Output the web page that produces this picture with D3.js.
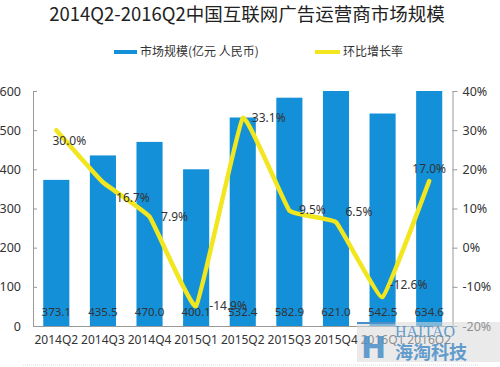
<!DOCTYPE html>
<html><head><meta charset="utf-8">
<script src="https://cdn.jsdelivr.net/npm/d3@7/dist/d3.min.js"></script>
<style>body{margin:0;background:#fff}svg{display:block}text{font-family:"Noto Sans CJK SC","Noto Sans",sans-serif}</style>
</head><body><svg id="c" width="500" height="367"></svg>
<script>
const categories = ["2014Q2","2014Q3","2014Q4","2015Q1","2015Q2","2015Q3","2015Q4","2016Q1","2016Q2"];
const marketSize = [373.1,435.5,470.0,400.1,532.4,582.9,621.0,542.5,634.6];
const growthRate = [30.0,16.7,7.9,-14.9,33.1,9.5,6.5,-12.6,17.0];
const leftTicks = [0,100,200,300,400,500,600];
const rightTicks = [-20,-10,0,10,20,30,40];
const title = "2014Q2-2016Q2中国互联网广告运营商市场规模";
const legendLabels = ["市场规模(亿元 人民币)","环比增长率"];

const svg = d3.select("#c");
const L = 33, R = 452.5, T = 91, B = 326;
const blue = "#1390d8", yellow = "#f2e61e", txt = "#333";

const x = d3.scaleBand().domain(categories).range([L, R]).paddingInner(0.44).paddingOuter(0.22);
const y = d3.scaleLinear().domain([0, 600]).range([B, T]).clamp(true);
const y2 = d3.scaleLinear().domain([-20, 40]).range([B, T]);

// title
svg.append("text").attr("x", 247).attr("y", 21).attr("text-anchor", "middle")
  .attr("font-size", 18.5).attr("fill", "#222").text(title);

// legend
const lg = svg.append("g");
lg.append("rect").attr("x", 114).attr("y", 50).attr("width", 23).attr("height", 4).attr("fill", blue);
lg.append("text").attr("x", 140).attr("y", 56).attr("font-size", 12).attr("fill", txt).text(legendLabels[0]);
lg.append("rect").attr("x", 315).attr("y", 50).attr("width", 25).attr("height", 4).attr("fill", yellow);
lg.append("text").attr("x", 343).attr("y", 56).attr("font-size", 12).attr("fill", txt).text(legendLabels[1]);

// bars
svg.append("g").selectAll("rect").data(marketSize).join("rect")
  .attr("x", (d, i) => x(categories[i])).attr("width", x.bandwidth())
  .attr("y", d => y(d)).attr("height", d => B - y(d)).attr("fill", blue);

// axes
const axL = svg.append("g").attr("transform", `translate(${L},0)`)
  .call(d3.axisLeft(y).tickValues(leftTicks).tickSizeInner(-4).tickSizeOuter(0).tickPadding(12));
const axR = svg.append("g").attr("transform", `translate(${R},0)`)
  .call(d3.axisRight(y2).tickValues(rightTicks).tickFormat(d => d + "%").tickSizeInner(5).tickSizeOuter(0).tickPadding(5));
[axL, axR].forEach(a => {
  a.selectAll("path,line").attr("stroke", "#999");
  a.selectAll("text").attr("font-size", 12.5).attr("fill", txt).style("font-family", "'Noto Sans',sans-serif");
});
const axB = svg.append("g").attr("transform", `translate(0,${B})`)
  .call(d3.axisBottom(x).tickSize(0).tickPadding(9));
axB.select("path").attr("stroke", "#999");
axB.selectAll("text").attr("font-size", 12).attr("fill", txt).style("font-family", "'Noto Sans',sans-serif");

// bar value labels
svg.append("g").selectAll("text").data(marketSize).join("text")
  .attr("x", (d, i) => x(categories[i]) + x.bandwidth() / 2).attr("y", 316)
  .attr("text-anchor", "middle").attr("font-size", 11.5).attr("fill", txt)
  .style("font-family", "'Noto Sans',sans-serif").text(d => d.toFixed(1));

// line
const cx = i => x(categories[i]) + x.bandwidth() / 2;
const line = d3.line().x((d, i) => cx(i)).y(d => y2(d)).curve(d3.curveCardinal.tension(0.72));
svg.append("path").datum(growthRate).attr("d", line).attr("fill", "none")
  .attr("stroke", yellow).attr("stroke-width", 4.5).attr("stroke-linejoin", "round").attr("stroke-linecap", "round");

// rate labels (offsets relative to the point)
const off = [[13,11],[30,16],[25,0],[32,0],[26,0],[23,0],[23,-10],[26,-12],[0,-12]];
svg.append("g").selectAll("text").data(growthRate).join("text")
  .attr("x", (d, i) => cx(i) + off[i][0]).attr("y", (d, i) => y2(d) + off[i][1] + 4)
  .attr("text-anchor", "middle").attr("font-size", 12).attr("fill", txt)
  .style("font-family", "'Noto Sans',sans-serif").text(d => d.toFixed(1) + "%");

// watermark
const wm = svg.append("g");
wm.append("rect").attr("x", 357).attr("y", 322).attr("width", 143).attr("height", 40).attr("fill", "#d9d9d9").attr("opacity", 0.55);
wm.append("rect").attr("x", 357).attr("y", 322).attr("width", 38).attr("height", 2).attr("fill", "#4a8fc8");
wm.append("text").attr("x", 361).attr("y", 358).attr("font-size", 30).attr("font-weight", "bold").attr("fill", "#4a8fc8").attr("opacity", 0.85).style("font-family", "'DejaVu Sans',sans-serif").text("H");
wm.append("text").attr("x", 395).attr("y", 337).attr("font-size", 16).attr("fill", "#4a8fc8").attr("opacity", 0.85).style("font-family", "'Liberation Serif',serif").text("HAITAO");
wm.append("text").attr("x", 395).attr("y", 359).attr("font-size", 18).attr("font-weight", "bold").attr("fill", "#4a8fc8").attr("opacity", 0.85).text("海淘科技");
svg.append("line").attr("x1", 23).attr("x2", 478).attr("y1", 365).attr("y2", 365).attr("stroke", "#ddd").attr("stroke-dasharray", "1,1");
</script></body></html>
